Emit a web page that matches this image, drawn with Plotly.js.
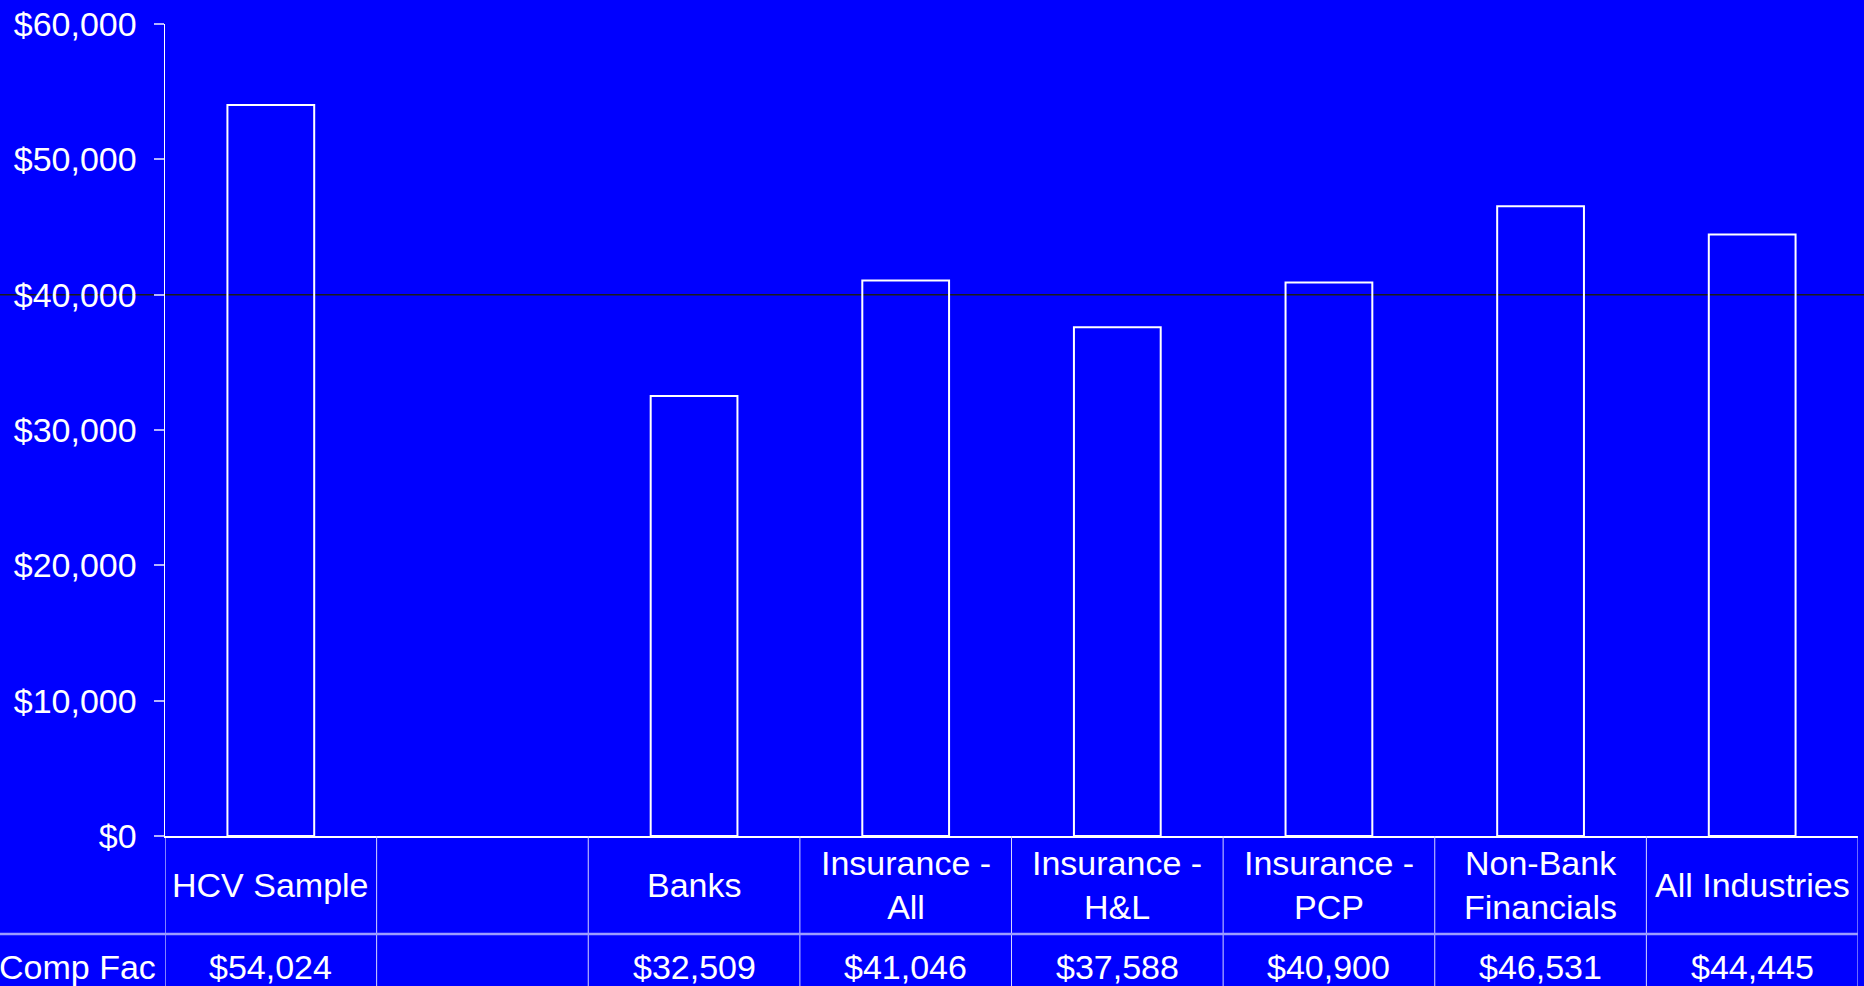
<!DOCTYPE html>
<html>
<head>
<meta charset="utf-8">
<script src="https://cdn.plot.ly/plotly-3.0.1.min.js"></script>
<style>
  html, body { margin: 0; padding: 0; background: #0000ff; }
  #chart { width: 1864px; height: 986px; }
</style>
</head>
<body>
<div id="chart"></div>
<script>
// Category keys (the second column is an intentionally empty spacer column)
const categories = ['HCV Sample', '\u00a0', 'Banks', 'Insurance - All', 'Insurance - H&L',
                    'Insurance - PCP', 'Non-Bank Financials', 'All Industries'];
// Header text shown in the first table row
const headerLabels = ['HCV Sample', '', 'Banks', 'Insurance -<br>All', 'Insurance -<br>H&L',
                      'Insurance -<br>PCP', 'Non-Bank<br>Financials', 'All Industries'];
// Compensation factor per group
const compFac = [54024, null, 32509, 41046, 37588, 40900, 46531, 44445];
const rowLabel = 'Comp Fac';
const yTicks = [0, 10000, 20000, 30000, 40000, 50000, 60000];
const referenceLevel = 40000;

const FONT = '"Liberation Sans", Arial, Helvetica, sans-serif';
const BLUE = '#0000ff';
const TEXT_SIZE = 34;

const W = 1864, H = 986;
const margin = { l: 165, r: 6, t: 24, b: 150, pad: 0 };
const plotH = H - margin.t - margin.b;
const plotW = W - margin.l - margin.r;
const px2paperY = px => -px / plotH;   // pixels below the x axis -> paper y
const px2paperX = px => px / plotW;    // pixels from the y axis -> paper x

const row1Center = px2paperY(49);
const rowSplit = px2paperY(98);
const row2Center = px2paperY(131);
const tableBottom = px2paperY(160);

const fmtMoney = v => (v == null ? '' : '$' + v.toLocaleString('en-US'));

const trace = {
  type: 'bar',
  x: categories,
  y: compFac,
  marker: { color: 'rgba(0,0,0,0)', line: { color: '#ffffff', width: 2 } },
  hoverinfo: 'skip'
};

const annotations = [];
categories.forEach((c, i) => {
  annotations.push({
    x: c, xref: 'x', y: row1Center, yref: 'paper',
    text: headerLabels[i], showarrow: false,
    xanchor: 'center', yanchor: 'middle', align: 'center',
    font: { family: FONT, size: TEXT_SIZE, color: '#ffffff' }
  });
  annotations.push({
    x: c, xref: 'x', y: row2Center, yref: 'paper',
    text: fmtMoney(compFac[i]), showarrow: false,
    xanchor: 'center', yanchor: 'middle',
    font: { family: FONT, size: TEXT_SIZE, color: '#ffffff' }
  });
});
annotations.push({
  x: px2paperX(-7), xref: 'paper', y: row2Center, yref: 'paper',
  text: rowLabel, showarrow: false, xanchor: 'right', yanchor: 'middle',
  font: { family: FONT, size: TEXT_SIZE, color: '#ffffff' }
});

const shapes = [];
// dark level line running across the whole figure
shapes.push({
  type: 'line', layer: 'below', xref: 'paper', yref: 'y',
  x0: px2paperX(-margin.l), x1: px2paperX(plotW + margin.r),
  y0: referenceLevel, y1: referenceLevel,
  line: { color: '#1c1c1c', width: 1.5 }
});
// data table column borders
for (let i = 0; i <= categories.length; i++) {
  shapes.push({
    type: 'line', xref: 'x', yref: 'paper',
    x0: i - 0.5, x1: i - 0.5, y0: 0, y1: tableBottom,
    line: { color: i === 0 ? '#ffffff' : '#d4d4ff', width: 1 }
  });
}
// separator between header row and value row
shapes.push({
  type: 'line', xref: 'paper', yref: 'paper',
  x0: px2paperX(-margin.l), x1: 1, y0: rowSplit, y1: rowSplit,
  line: { color: '#9c9cff', width: 2.5 }
});

const layout = {
  width: W, height: H,
  margin: margin,
  paper_bgcolor: BLUE, plot_bgcolor: BLUE,
  showlegend: false,
  bargap: 0.59,
  font: { family: FONT, color: '#ffffff' },
  xaxis: {
    type: 'category',
    categoryorder: 'array', categoryarray: categories,
    range: [-0.5, categories.length - 0.5],
    showticklabels: false, ticks: '',
    showgrid: false, zeroline: false,
    showline: true, linecolor: '#ffffff', linewidth: 1.5,
    fixedrange: true
  },
  yaxis: {
    range: [0, 60000],
    tickvals: yTicks, tickformat: '$,.0f',
    tickfont: { family: FONT, size: TEXT_SIZE, color: '#ffffff' },
    ticks: 'outside', ticklen: 10, tickwidth: 2, tickcolor: '#b4b4ff',
    ticklabelstandoff: 10,
    showgrid: false, zeroline: false,
    showline: true, linecolor: '#ffffff', linewidth: 1.5,
    fixedrange: true
  },
  annotations: annotations,
  shapes: shapes
};

Plotly.newPlot('chart', [trace], layout, { displayModeBar: false, staticPlot: true });
</script>
</body>
</html>
